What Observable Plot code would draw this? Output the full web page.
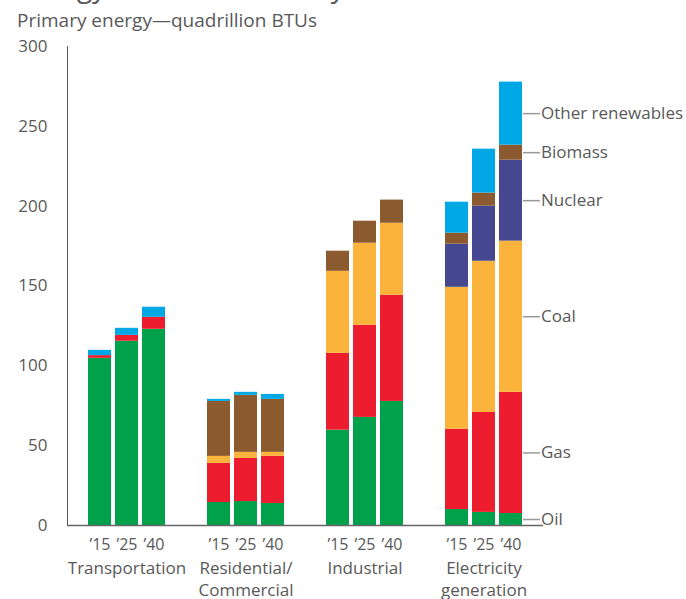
<!DOCTYPE html>
<html>
<head>
<meta charset="utf-8">
<script src="https://cdn.jsdelivr.net/npm/d3@7"></script>
<script src="https://cdn.jsdelivr.net/npm/@observablehq/plot@0.6"></script>
<style>
  html, body { margin: 0; padding: 0; background: #fff; }
  body { width: 686px; height: 599px; overflow: hidden; font-family: "Open Sans", sans-serif; color: #595959; }
  #header { position: relative; height: 34px; overflow: hidden; }
  #title { position: absolute; left: 17px; top: -30px; font-size: 28px; line-height: 32px; white-space: nowrap; color: #595959; }
  #subtitle { position: absolute; left: 17px; top: 11px; font-size: 19px; line-height: 19px; white-space: nowrap; color: #595959; }
  #chart svg { display: block; }
  #chart g[aria-label="y-axis tick label"] { font-size: 17px; }
  #chart g[aria-label="x-axis tick label"] { font-size: 16px; }
  #chart g[aria-label="y-axis line"], #chart g[aria-label="y-axis rule"] { stroke: #666; stroke-width: 1.5px; }
</style>
</head>
<body>
<div id="header">
  <div id="title">Energy demand varies by sector</div>
  <div id="subtitle">Primary energy—quadrillion BTUs</div>
</div>
<div id="chart"></div>
<script>
// ---- data ----
const sectors = ["Transportation", "Residential", "Industrial", "Electricity"];
const sectorLabels = ["Transportation", "Residential/\nCommercial", "Industrial", "Electricity\ngeneration"];
const years = ["’15", "’25", "’40"];
const fuels = ["Oil", "Gas", "Coal", "Nuclear", "Biomass", "Other renewables"];
const fuelColors = ["#00a14b", "#ed1c2e", "#fbb33b", "#454790", "#8b5a2e", "#00a9e6"];
const yTicks = [0, 50, 100, 150, 200, 250, 300];

// values per bar: Transportation '15 '25 '40, Residential..., Industrial..., Electricity...
const oil     = [104.7, 115.4, 122.9, 14.4, 15.0, 13.8, 59.7, 67.7, 77.7, 10.0, 8.2, 7.5];
const gas     = [1.7, 3.7, 7.5, 24.5, 27.0, 29.5, 48.1, 57.7, 66.5, 50.2, 62.6, 75.9];
const coal    = [0, 0, 0, 4.4, 3.8, 2.5, 51.4, 51.4, 45.1, 89.0, 94.7, 94.7];
const nuclear = [0, 0, 0, 0, 0, 0, 0, 0, 0, 27.0, 34.5, 50.7];
const biomass = [0, 0, 0, 34.4, 35.7, 33.2, 12.6, 13.8, 14.5, 6.9, 8.2, 9.4];
const otherRenewables = [3.3, 4.4, 6.3, 1.3, 1.9, 3.1, 0, 0, 0, 19.4, 27.5, 39.5];

const series = [oil, gas, coal, nuclear, biomass, otherRenewables];

// ---- build table ----
const rows = [];
sectors.forEach((s, si) => {
  years.forEach((yr, yi) => {
    fuels.forEach((f, fi) => {
      const v = series[fi][si * 3 + yi];
      if (v > 0) rows.push({sector: s, year: yr, fuel: f, value: v});
    });
  });
});

// legend labels: midpoints of segments of the last Electricity bar
const lastIdx = 3 * 3 + 2;
let cum = 0;
const legendRows = fuels.map((f, fi) => {
  const v = series[fi][lastIdx];
  const mid = cum + v / 2;
  cum += v;
  return {sector: "Electricity", year: years[2], fuel: f, mid};
});

const sectorRows = sectors.map((s, i) => ({sector: s, label: sectorLabels[i]}));

const textColor = "#595959";

const chart = Plot.plot({
  width: 686,
  height: 565,
  marginTop: 12,
  marginBottom: 74,
  marginLeft: 66,
  marginRight: 142,
  style: {fontFamily: "Open Sans, sans-serif", color: textColor, background: "#fff", fontSize: "16px"},
  fx: {domain: sectors, padding: 0, axis: null},
  x: {domain: years, paddingInner: 0.13, paddingOuter: 0.72, label: null, tickSize: 0, tickPadding: 13},
  y: {domain: [0, 300], ticks: yTicks, tickSize: 0, tickPadding: 20, label: null, line: true},
  color: {domain: fuels, range: fuelColors},
  marks: [
    Plot.barY(rows, {fx: "sector", x: "year", y: "value", fill: "fuel"}),
    Plot.ruleY([0], {stroke: "#666", strokeWidth: 1.5}),
    Plot.tickY(legendRows, {fx: "sector", x: "year", y: "mid", dx: 24, insetRight: 6, stroke: "#9a9a9a", strokeWidth: 1.5}),
    Plot.text(legendRows, {fx: "sector", x: "year", y: "mid", text: "fuel", dx: 30, textAnchor: "start", fontSize: 17, fill: textColor}),
    Plot.text(sectorRows, {fx: "sector", text: "label", frameAnchor: "bottom", lineAnchor: "top", dy: 33, lineHeight: 1.28, fontSize: 17, fill: textColor})
  ]
});
document.getElementById("chart").appendChild(chart);
</script>
</body>
</html>
